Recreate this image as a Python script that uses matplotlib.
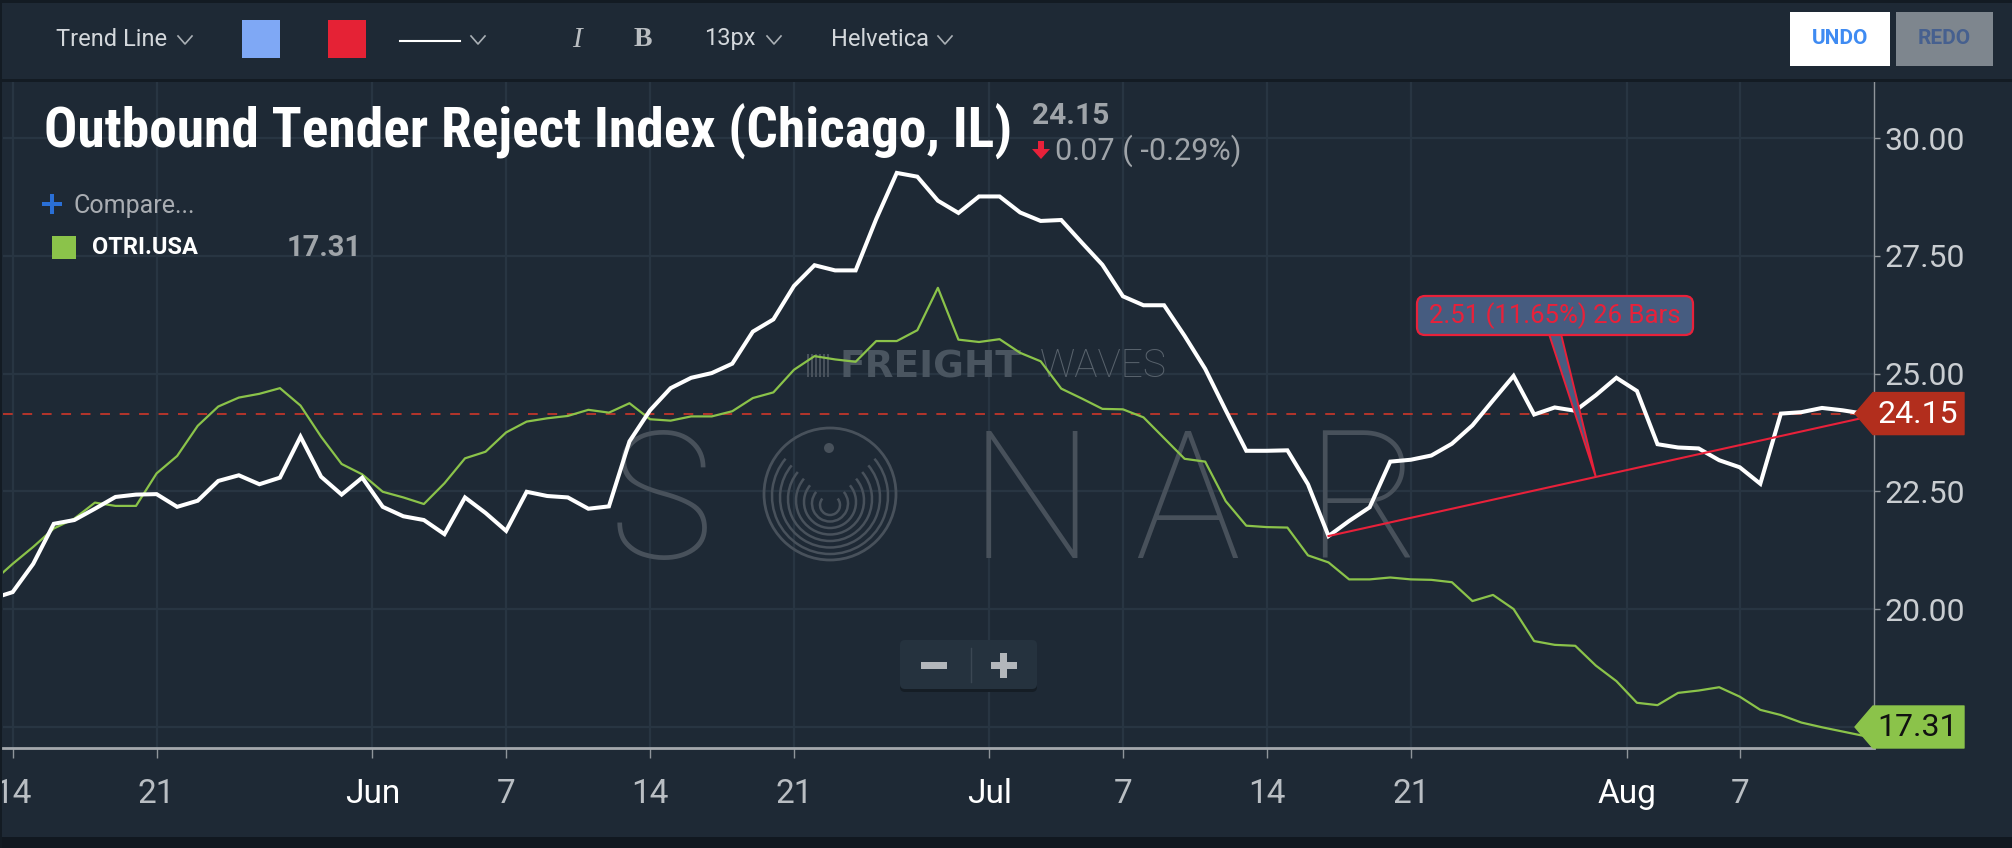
import matplotlib
matplotlib.use('Agg')
import matplotlib.pyplot as plt
from matplotlib import font_manager
from matplotlib.patches import Rectangle, FancyBboxPatch, Polygon, Circle, Arc
import numpy as np
import pandas as pd

# daily index values (one day, Aug 4, is missing in the source)
dates = pd.date_range('2019-05-13', '2019-08-13').drop(pd.Timestamp('2019-08-04'))

chicago = [
    20.22, 20.36, 20.96, 21.81, 21.89, 22.13, 22.38, 22.43, 22.44, 22.17,
    22.30, 22.72, 22.84, 22.65, 22.79, 23.66, 22.81, 22.43, 22.79,
    22.17, 21.97, 21.89, 21.59, 22.37, 22.04, 21.66, 22.49, 22.40, 22.37,
    22.13, 22.18, 23.56, 24.22, 24.69, 24.91, 25.01, 25.21, 25.89, 26.15,
    26.86, 27.30, 27.19, 27.19, 28.28, 29.26, 29.18, 28.67, 28.41, 28.76,
    28.76, 28.42, 28.24, 28.26, 27.78, 27.31, 26.64, 26.45, 26.45, 25.80,
    25.10, 24.22, 23.36, 23.36, 23.37, 22.65, 21.55, 21.87, 22.16, 23.13,
    23.17, 23.26, 23.51, 23.90, 24.43, 24.95, 24.13, 24.28, 24.21, 24.54,
    24.91,
    24.63, 23.50, 23.43, 23.41, 23.16, 23.01, 22.66, 24.15, 24.18, 24.27,
    24.22, 24.15,
]

usa = [
    20.57, 20.96, 21.32, 21.71, 21.92, 22.26, 22.19, 22.19, 22.88, 23.25,
    23.89, 24.30, 24.49, 24.57, 24.69, 24.32, 23.66, 23.08, 22.86,
    22.49, 22.37, 22.23, 22.67, 23.20, 23.34, 23.75, 23.98, 24.05, 24.10,
    24.23, 24.17, 24.37, 24.03, 24.00, 24.09, 24.09, 24.20, 24.48, 24.60,
    25.08, 25.37, 25.30, 25.25, 25.69, 25.69, 25.92, 26.82, 25.72, 25.67,
    25.73, 25.44, 25.26, 24.68, 24.47, 24.25, 24.24, 24.07, 23.63, 23.19,
    23.13, 22.29, 21.77, 21.74, 21.73, 21.14, 20.99, 20.63, 20.63, 20.67,
    20.63, 20.62, 20.57, 20.17, 20.30, 20.00, 19.32, 19.24, 19.22, 18.80,
    18.47,
    18.01, 17.96, 18.22, 18.27, 18.34, 18.14, 17.86, 17.75, 17.59, 17.49,
    17.40, 17.31,
]

trend_dates = ['2019-07-17', '2019-08-13']
trend_values = [21.55, 24.06]

tick_dates = ['2019-05-14', '2019-05-21', '2019-06-01', '2019-06-07', '2019-06-14',
              '2019-06-21', '2019-07-01', '2019-07-07', '2019-07-14', '2019-07-21',
              '2019-08-01', '2019-08-07']
y_ticks = [17.5, 20.0, 22.5, 25.0, 27.5, 30.0]

title = 'Outbound Tender Reject Index (Chicago, IL)'
compare_name = 'OTRI.USA'

BG = '#1e2935'
DARK = '#131b23'
GRID = '#283542'
GREEN = '#8bc34a'
RED = '#e8213a'
TXT = '#c9cdd1'
GRAY = '#9fa4a9'

names = {f.name for f in font_manager.fontManager.ttflist}
def pick(*fams):
    for f in fams:
        if f in names:
            return f
    return 'DejaVu Sans'
SANS = pick('Roboto', 'Liberation Sans')
COND = pick('Roboto Condensed', 'Liberation Sans Narrow', 'DejaVu Sans')
SERIF = pick('Liberation Serif', 'DejaVu Serif')
plt.rcParams['font.family'] = [SANS, 'DejaVu Sans']

W, H = 2012, 848
fig = plt.figure(figsize=(W / 100, H / 100), dpi=100, facecolor=BG)
X0, X1, Y0, Y1 = 3, 1874, 82, 748
ax = fig.add_axes([X0 / W, 1 - Y1 / H, (X1 - X0) / W, (Y1 - Y0) / H])
ax.set_facecolor(BG)
ui = fig.add_axes([0, 0, 1, 1])
ui.set_xlim(0, W)
ui.set_ylim(H, 0)
ui.axis('off')

XL = (0.53, 91.53)
YL = (17.05, 31.19)

def px_x(i):
    return X0 + (i - XL[0]) / (XL[1] - XL[0]) * (X1 - X0)

def px_y(v):
    return Y1 - (v - YL[0]) / (YL[1] - YL[0]) * (Y1 - Y0)

x = np.arange(len(dates))

# watermark
WM = '#48515b'
for ch, cx in zip('SNAR', [661, 1032, 1187, 1363]):
    ax.text(cx, 558, ch, transform=ui.transData, fontsize=128, fontweight=100,
            color=WM, ha='center', va='baseline', zorder=1, family=[SANS])
ax.add_patch(Circle((830, 494), 66, fill=False, ec=WM, lw=2, transform=ui.transData, zorder=1))
for k, r in enumerate([58, 50, 42, 34, 26, 18, 10]):
    ax.add_patch(Arc((830, 496 + k * 1.5), 2 * r, 2 * r, theta1=-40, theta2=220,
                     ec=WM, lw=1.8, transform=ui.transData, zorder=1))
ax.add_patch(Circle((829, 448), 5, fc=WM, ec='none', transform=ui.transData, zorder=1))
for bx in [807, 811, 815, 819, 823, 827]:
    ax.add_patch(Rectangle((bx, 354), 2.5, 23, fc=WM, ec='none', transform=ui.transData, zorder=1))
ax.text(840, 377, 'FREIGHT', transform=ui.transData, fontsize=27, fontweight='bold',
        color='#4a5560', va='baseline', zorder=1, family=['DejaVu Sans'])
ax.text(1040, 377, 'WAVES', transform=ui.transData, fontsize=28, fontweight=100,
        color='#58626c', va='baseline', zorder=1, family=[SANS])

# series
ax.plot(x, usa, color=GREEN, lw=1.6, zorder=3)
ax.plot(x, chicago, color='white', lw=2.9, zorder=4, solid_joinstyle='miter')
ax.axhline(chicago[-1], color='#b5352b', lw=1.4, dashes=(5, 5), zorder=2)

ti = [dates.get_loc(pd.Timestamp(d)) for d in trend_dates]
ax.plot(ti, trend_values, color=RED, lw=1.5, zorder=5)

ax.set_xlim(*XL)
ax.set_ylim(*YL)

tpos, tlab, tcol = [], [], []
for s in tick_dates:
    d = pd.Timestamp(s)
    i = dates.get_loc(d)
    if d.day == 1:
        tpos.append(i - 0.5)
        tlab.append(d.strftime('%b'))
        tcol.append('white')
    else:
        tpos.append(i)
        tlab.append(str(d.day))
        tcol.append('#b9bec3')
ax.set_xticks(tpos)
ax.set_xticklabels(tlab)
for lab, c in zip(ax.get_xticklabels(), tcol):
    lab.set_color(c)
ax.tick_params(axis='x', length=7, width=1, color='#8f959b', labelsize=24, pad=14.5)

ax.yaxis.tick_right()
ax.set_yticks(y_ticks)
ax.set_yticklabels([f'{v:.2f}' for v in y_ticks])
ax.tick_params(axis='y', length=4.5, width=1, color='#8f959b', labelsize=23, labelcolor=TXT, pad=3)

ax.grid(True, color=GRID, lw=1.6)
ax.set_axisbelow(True)
for sp in ['top', 'left']:
    ax.spines[sp].set_visible(False)
ax.spines['bottom'].set_color('#a4a8ad')
ax.spines['bottom'].set_linewidth(2)
ax.spines['right'].set_color('#8f959b')
ax.spines['right'].set_linewidth(1)

# trend label with pointer
i0, i1 = ti
chg = trend_values[1] - trend_values[0]
pct = chg / trend_values[0] * 100
tip = (px_x((i0 + i1) / 2), px_y((trend_values[0] + trend_values[1]) / 2))
BOX = '#465c80'
ui.add_patch(Polygon([(1549, 334), (1561, 334), tip], closed=True, fc=BOX, ec=RED, lw=1.4, zorder=5))
ui.add_patch(FancyBboxPatch((1417, 296), 276, 39, boxstyle='round,pad=0,rounding_size=8',
                            fc=BOX, ec=RED, lw=1.6, zorder=6))
ui.text(1555, 316, f'{chg:.2f} ({pct:.2f}%) {i1 - i0} Bars', color=RED, fontsize=18.5,
        ha='center', va='center', zorder=7)

# price badges
def badge(value, label, fc, tc):
    yc = min(max(px_y(value), Y0 + 21), Y1 - 21)
    pts = [(1855, yc), (1873, yc - 21), (1964, yc - 21), (1964, yc + 21), (1873, yc + 21)]
    ui.add_patch(Polygon(pts, closed=True, fc=fc, ec=fc, lw=1, joinstyle='round', zorder=8))
    ui.text(1918, yc + 1, label, color=tc, fontsize=23, ha='center', va='center', zorder=9)

badge(chicago[-1], f'{chicago[-1]:.2f}', '#b22e1d', 'white')
badge(usa[-1], f'{usa[-1]:.2f}', GREEN, '#111111')

# header
ui.text(44, 148, title, color='white', fontsize=40, fontweight='bold', family=[COND, 'DejaVu Sans'],
        va='baseline')
last, prev = chicago[-1], chicago[-2]
dchg = last - prev
dpct = dchg / prev * 100
ui.text(1032, 124, f'{last:.2f}', color=GRAY, fontsize=21.5, fontweight='bold', va='baseline')
ui.add_patch(Rectangle((1038, 141), 6, 9, fc=RED, ec='none'))
ui.add_patch(Polygon([(1032, 149), (1050, 149), (1041, 159)], closed=True, fc=RED, ec='none'))
ui.text(1055, 160, f'{abs(dchg):.2f} ( {dpct:.2f}%)', color=GRAY, fontsize=22, va='baseline')

ui.add_patch(Rectangle((42, 202), 20, 4, fc='#2a6fd6', ec='none'))
ui.add_patch(Rectangle((50, 194), 4, 20, fc='#2a6fd6', ec='none'))
ui.text(74, 206, 'Compare...', color='#a9adb2', fontsize=18, va='center')
ui.add_patch(Rectangle((52, 236), 24, 23, fc=GREEN, ec='none'))
ui.text(92, 248, compare_name, color='white', fontsize=17, fontweight='bold', va='center')
ui.text(287, 248, f'{usa[-1]:.2f}', color=GRAY, fontsize=21, fontweight='bold', va='center')

# toolbar
ui.add_patch(Rectangle((0, 0), W, 3, fc=DARK, ec='none'))
ui.add_patch(Rectangle((0, 79), W, 3, fc=DARK, ec='none'))
ui.add_patch(Rectangle((0, 837), W, 11, fc='#111820', ec='none'))
ui.add_patch(Rectangle((0, 0), 2, H, fc=DARK, ec='none'))

def chevron(cx, cy):
    ui.plot([cx - 7, cx, cx + 7], [cy - 4, cy + 4, cy - 4], color='#aab0b5', lw=1.2)

TB = '#d3d7db'
ui.text(56, 39, 'Trend Line', color=TB, fontsize=17, va='center')
chevron(185, 40)
ui.add_patch(Rectangle((242, 20), 38, 38, fc='#7fa8f5', ec='none'))
ui.add_patch(Rectangle((328, 20), 38, 38, fc='#e52235', ec='none'))
ui.plot([400, 460], [41, 41], color='white', lw=1.5)
chevron(478, 40)
ui.text(577, 40, 'I', color='#b9bdc1', fontsize=21, fontstyle='italic', family=[SERIF],
        ha='center', va='center')
ui.text(643, 40, 'B', color='#b9bdc1', fontsize=20, fontweight='bold', family=[SERIF],
        ha='center', va='center')
ui.text(704, 39, '13px', color=TB, fontsize=17, va='center')
chevron(774, 40)
ui.text(831, 39, 'Helvetica', color=TB, fontsize=17, va='center')
chevron(945, 40)

ui.add_patch(Rectangle((1790, 12), 100, 54, fc='white', ec='none'))
ui.text(1840, 39, 'UNDO', color='#3f8bf2', fontsize=15, fontweight='bold', ha='center', va='center')
ui.add_patch(Rectangle((1896, 12), 97, 54, fc='#7e868e', ec='none'))
ui.text(1944, 39, 'REDO', color='#46608f', fontsize=15, fontweight='bold', ha='center', va='center')

# zoom control
ui.add_patch(FancyBboxPatch((900, 643), 137, 49, boxstyle='round,pad=0,rounding_size=5',
                            fc='#151d25', ec='none', zorder=3))
ui.add_patch(FancyBboxPatch((900, 640), 137, 49, boxstyle='round,pad=0,rounding_size=5',
                            fc='#25323e', ec='none', zorder=4))
ui.plot([971, 971], [648, 682], color='#3b4753', lw=1, zorder=5)
ui.add_patch(Rectangle((921, 662), 26, 7, fc='#b3b7bb', ec='none', zorder=5))
ui.add_patch(Rectangle((991, 662), 26, 7, fc='#b3b7bb', ec='none', zorder=5))
ui.add_patch(Rectangle((1000.5, 653), 7, 25, fc='#b3b7bb', ec='none', zorder=5))

fig.savefig('out.png', dpi=100, facecolor=BG)
